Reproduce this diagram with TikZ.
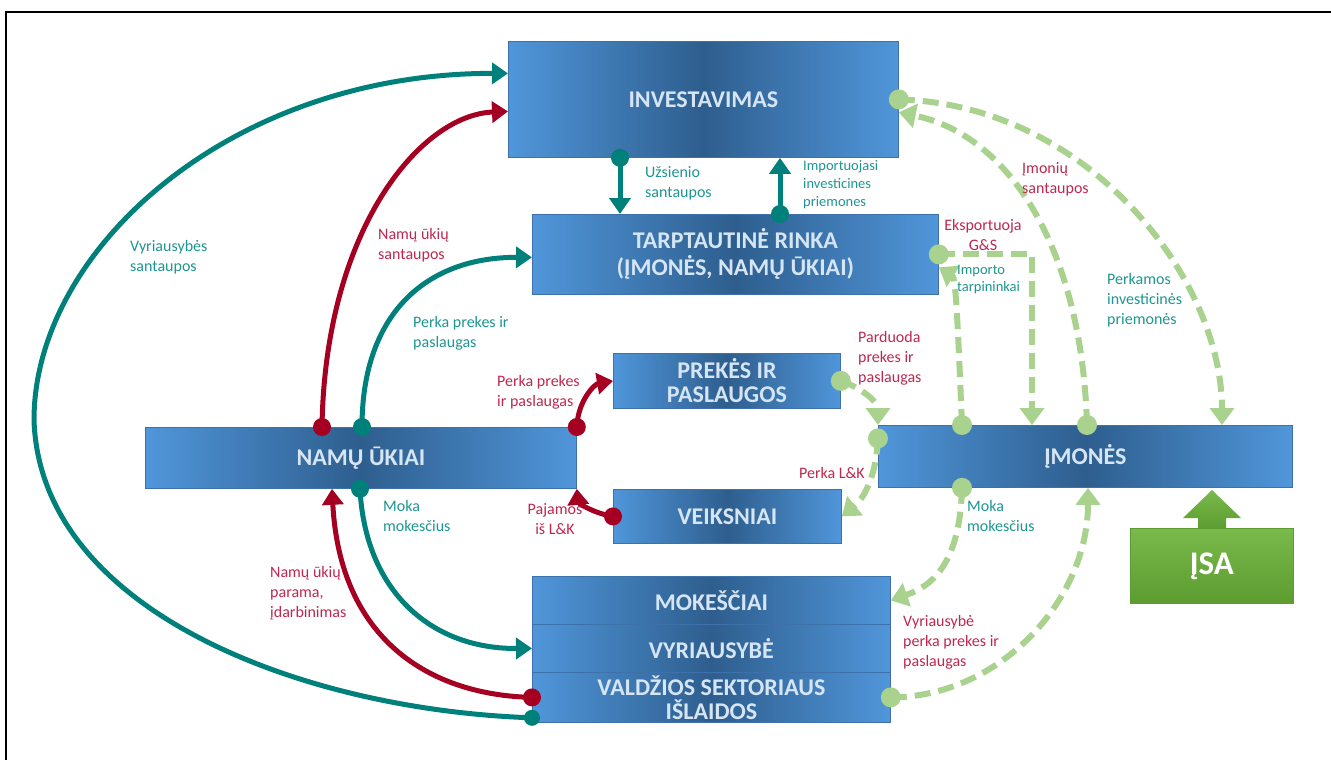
\documentclass[tikz,border=0pt]{standalone}
\usepackage{fontspec}
\setmainfont{Carlito}
\usetikzlibrary{arrows.meta}
\definecolor{tealC}{RGB}{0,128,122}
\definecolor{redC}{RGB}{165,0,33}
\definecolor{grnC}{RGB}{169,210,142}
\definecolor{tealT}{RGB}{30,150,145}
\definecolor{redT}{RGB}{190,40,80}
\definecolor{boxlight}{RGB}{80,150,218}
\definecolor{boxdark}{RGB}{46,94,142}
\definecolor{boxedge}{RGB}{62,112,170}
\definecolor{boxtext}{RGB}{214,229,244}
\definecolor{isatop}{RGB}{122,186,76}
\definecolor{isabot}{RGB}{92,156,48}
\tikzset{
  box/.style={draw=boxedge, line width=0.8pt, left color=boxlight, right color=boxlight, middle color=boxdark,
    anchor=north west, inner sep=0pt, text=boxtext, font=\bfseries\fontsize{24}{27}\selectfont, align=center},
  lbl/.style={font=\fontsize{16}{20}\selectfont, inner sep=0pt, align=left, anchor=west},
  slbl/.style={font=\fontsize{14.5}{18}\selectfont, inner sep=0pt, align=left, anchor=west},
  tealc/.style={draw=tealC, line width=5pt, -{Triangle[width=21pt,length=16pt]}},
  redc/.style={draw=redC, line width=5pt, -{Triangle[width=21pt,length=16pt]}},
  grnc/.style={draw=grnC, line width=6pt, dash pattern=on 16pt off 8pt, -{Triangle[width=24pt,length=17pt]}},
}
\begin{document}
\begin{tikzpicture}[x=1pt,y=-1pt]
\useasboundingbox (0,0) rectangle (1331,760);
\fill[white] (0,0) rectangle (1331,760);
\draw[line width=2.5pt] (6,760) -- (6,12) -- (1331,12);

% boxes
\node[box, minimum width=390pt, minimum height=116pt] (inv) at (508,41) {INVESTAVIMAS};
\node[box, minimum width=406pt, minimum height=80pt] (trade) at (532,214) {TARPTAUTINĖ RINKA\\(ĮMONĖS, NAMŲ ŪKIAI)};
\node[box, minimum width=227pt, minimum height=55pt] (goods) at (613,353) {PREKĖS IR\\[-3pt]PASLAUGOS};
\node[box, minimum width=431pt, minimum height=61pt] (hh) at (145,427) {NAMŲ ŪKIAI};
\node[box, minimum width=228pt, minimum height=54pt] (fac) at (613,489) {VEIKSNIAI};
\node[box, minimum width=414pt, minimum height=62pt] (firms) at (878,425) {ĮMONĖS};
\node[box, minimum width=358pt, minimum height=48pt] (tax) at (532,576) {MOKEŠČIAI};
\node[box, minimum width=358pt, minimum height=48pt] (gov) at (532,624) {VYRIAUSYBĖ};
\node[box, minimum width=358pt, minimum height=50pt] (spend) at (532,672) {VALDŽIOS SEKTORIAUS\\[-3pt]IŠLAIDOS};

% ISA
\shade[top color=isatop, bottom color=isabot] (1198,529) -- (1198,518) -- (1183,518) -- (1212,490) -- (1241,518) -- (1226,518) -- (1226,529) -- cycle;
\node[draw=isabot, line width=0.8pt, top color=isatop, bottom color=isabot, anchor=north west, minimum width=163pt, minimum height=75pt,
  inner sep=0pt, text=white, font=\bfseries\fontsize{33}{36}\selectfont] (isa) at (1130,528) {ĮSA};

% teal connectors
\draw[tealc] ([yshift=5pt]spend.south west) .. controls (300,710) and (40,610) .. (34,420)
   .. controls (34,250) and (230,73) .. ([yshift=26pt]inv.west);
\fill[tealC] ([yshift=5pt]spend.south west) circle (8pt);
\draw[tealc] ([xshift=217pt]hh.north west) .. controls (362,310) and (430,257) .. ([yshift=-3pt]trade.west);
\fill[tealC] ([xshift=217pt]hh.north west) circle (9pt);
\draw[tealc] ([xshift=215pt]hh.south west) .. controls (365,590) and (430,649) .. (gov.west);
\fill[tealC] ([xshift=215pt]hh.south west) circle (9pt);
\draw[tealc] ([xshift=112pt]inv.south west) -- ([xshift=88pt]trade.north west);
\fill[tealC] ([xshift=112pt]inv.south west) circle (9pt);
\draw[tealc] ([xshift=248pt]trade.north west) -- ([xshift=272pt]inv.south west);
\fill[tealC] ([xshift=248pt]trade.north west) circle (9pt);

% red connectors
\draw[redc] ([xshift=177pt]hh.north west) .. controls (325,230) and (420,115) .. ([yshift=-12pt]inv.west);
\fill[redC] ([xshift=177pt]hh.north west) circle (9pt);
\draw[redc] (hh.north east) .. controls (578,400) and (595,384) .. (goods.west);
\fill[redC] (hh.north east) circle (9pt);
\draw[redc] (fac.west) .. controls (592,513) and (578,502) .. (hh.south east);
\fill[redC] (fac.west) circle (9pt);
\draw[redc] (spend.west) .. controls (430,695) and (340,640) .. ([xshift=187pt]hh.south west);
\fill[redC] (spend.west) circle (9pt);

% green dashed connectors
\draw[grnc] (inv.east) .. controls (1090,105) and (1222,280) .. ([xshift=344pt]firms.north west);
\fill[grnC] (inv.east) circle (10pt);
\draw[grnc] ([xshift=209pt]firms.north west) .. controls (1082,250) and (1010,135) .. ([yshift=-13pt]inv.east);
\fill[grnC] ([xshift=209pt]firms.north west) circle (10pt);
\draw[grnc] (trade.east) -| ([xshift=154pt]firms.north west);
\fill[grnC] (trade.east) circle (10pt);
\draw[grnc] ([xshift=84pt]firms.north west) .. controls (958,330) and (956,278) .. ([yshift=-13pt]trade.east);
\fill[grnC] ([xshift=84pt]firms.north west) circle (10pt);
\draw[grnc] (goods.east) .. controls (862,388) and (878,402) .. (firms.north west);
\fill[grnC] (goods.east) circle (10pt);
\draw[grnc] ([yshift=18pt]firms.west) .. controls (876,480) and (862,500) .. (fac.east);
\fill[grnC] ([yshift=18pt]firms.west) circle (10pt);
\draw[grnc] ([xshift=84pt]firms.south west) .. controls (960,560) and (935,585) .. (tax.east);
\fill[grnC] ([xshift=84pt]firms.south west) circle (10pt);
\draw[grnc] (spend.east) .. controls (1000,697) and (1088,600) .. ([xshift=210pt]firms.south west);
\fill[grnC] (spend.east) circle (10pt);

% labels
\node[lbl, text=tealT] (l1) at (645,183) {Užsienio\\santaupos};
\node[slbl, text=tealT] (l2) at (803,185) {Importuojasi\\investicines\\priemones};
\node[lbl, text=redT] (l3) at (1022,179) {Įmonių\\santaupos};
\node[lbl, text=redT, align=center, anchor=center] (l4) at (983,235) {Eksportuoja\\G\&S};
\node[slbl, text=tealT, font=\fontsize{14.5}{17}\selectfont] (l5) at (957,280) {Importo\\tarpininkai};
\node[lbl, text=tealT] (l6) at (1107,300) {Perkamos\\investicinės\\priemonės};
\node[lbl, text=tealT] (l7) at (130,257) {Vyriausybės\\santaupos};
\node[lbl, text=redT] (l8) at (378,245) {Namų ūkių\\santaupos};
\node[lbl, text=tealT] (l9) at (413,333) {Perka prekes ir\\paslaugas};
\node[lbl, text=redT] (l10) at (497,392) {Perka prekes\\ir paslaugas};
\node[lbl, text=redT] (l11) at (858,358) {Parduoda\\prekes ir\\paslaugas};
\node[lbl, text=redT, anchor=east] (l12) at (865,473) {Perka L\&K};
\node[lbl, text=redT, align=center, anchor=center] (l13) at (555,519) {Pajamos\\iš L\&K};
\node[lbl, text=tealT] (l14) at (383,516) {Moka\\mokesčius};
\node[lbl, text=redT] (l15) at (270,593) {Namų ūkių\\parama,\\įdarbinimas};
\node[lbl, text=tealT] (l16) at (967,516) {Moka\\mokesčius};
\node[lbl, text=redT] (l17) at (903,642) {Vyriausybė\\perka prekes ir\\paslaugas};
\end{tikzpicture}
\end{document}
